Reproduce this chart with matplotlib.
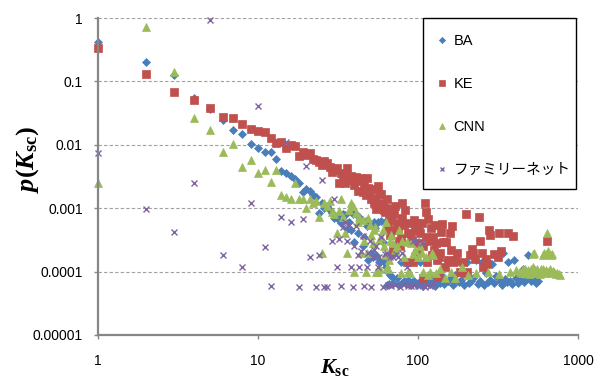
import numpy as np
import matplotlib
matplotlib.use("Agg")
import matplotlib.pyplot as plt
from matplotlib.patches import Rectangle
from matplotlib.ticker import NullLocator

plt.rcParams["mathtext.fontset"] = "custom"
plt.rcParams["mathtext.it"] = "Liberation Serif:italic:bold"
plt.rcParams["mathtext.rm"] = "Liberation Serif:bold"
SANS = ["Liberation Sans", "Noto Sans CJK JP", "DejaVu Sans"]

# (K_sc, p(K_sc))
ba_pts = [(1, .42), (2, .20), (3, .128), (4, .054), (5, .037), (6, .0245), (7, .0172), (8, .0148),
          (9, .0103), (10, .0089), (11, .0077), (12, .0077), (13, .0060), (14, .0039), (15, .0036),
          (16, .0032), (17, .0029), (18, .0025), (19, .0018), (20, .0020), (21, .0019), (22, .0016),
          (23, .0015), (24, .00083), (25, .0012), (26, .0010), (27, .0011), (28, .00095), (29, .00083),
          (30, .00070), (31, .00075), (32, .00065), (33, .00058), (34, .00080), (35, .00077),
          (36, .00047), (37, .00060), (38, .00046), (39, .00081), (40, .00029), (41, .00081),
          (42, .00040), (43, .00073), (44, .00064), (45, .00025), (46, .00035), (47, .00062),
          (48, .00053), (49, .00015), (50, .00055), (51, .00020), (52, .00017), (53, .00060),
          (54, .00049), (55, .00018), (56, .00061), (57, .00014), (58, .00014), (59, .00062),
          (60, .00029), (61, .00014), (62, .00060), (63, .00012), (64, .000062), (65, .00010),
          (66, .000064), (67, .000088), (68, .00020), (69, .000083), (70, .000065), (72, .00020),
          (74, .000080), (76, .000062), (78, .00014), (80, .000066), (82, .000072), (84, .000063),
          (86, .000075), (88, .000064), (90, .000061), (92, .000068), (94, .000070), (96, .00020),
          (98, .000062), (100, .000066), (103, .00014), (105, .000072), (108, .000060),
          (110, .000065), (113, .00014), (116, .000075), (119, .000064), (122, .000082),
          (125, .000068), (128, .000060), (131, .00015), (134, .000072), (138, .000066),
          (142, .000085), (146, .000063), (151, .00015), (155, .000070), (160, .000078),
          (165, .000062), (170, .000090), (176, .00014), (181, .000068), (187, .000074),
          (193, .000061), (199, .00009), (202, .00014), (208, .000066), (215, .000072),
          (222, .000080), (232, .00015), (238, .000064), (245, .000070), (250, .00014),
          (258, .000062), (266, .000095), (275, .000068), (283, .000074), (290, .00013),
          (300, .000066), (308, .000085), (316, .00018), (325, .000070), (333, .000062),
          (340, .00020), (350, .000076), (360, .000068), (365, .00014), (375, .000072),
          (385, .000064), (400, .00015), (410, .000078), (420, .000066), (435, .000074),
          (450, .00011), (462, .000068), (475, .000076), (490, .00018), (505, .000070),
          (520, .00011), (535, .000074), (550, .000066), (565, .000072)]

ke_pts = [(1, .34), (2, .13), (3, .068), (4, .051), (5, .038), (6, .027), (7, .026), (8, .021),
          (9, .018), (10, .0165), (11, .016), (12, .0128), (13, .0107), (14, .011), (15, .0089),
          (16, .0099), (17, .0096), (18, .0067), (19, .0077), (20, .0069), (21, .0075), (22, .0060),
          (23, .0058), (24, .0053), (25, .0048), (26, .0055), (27, .0051), (28, .0045), (29, .0037),
          (30, .0040), (31, .0043), (32, .0025), (33, .0036), (34, .0033), (35, .0025), (36, .0043),
          (37, .0028), (38, .0032), (39, .0030), (40, .0023), (41, .0031), (42, .0019), (43, .0027),
          (44, .0030), (45, .0018), (46, .0023), (47, .0016), (48, .0030), (49, .0021), (50, .0017),
          (51, .0014), (52, .0020), (53, .0012), (54, .0014), (55, .00097), (56, .0022), (57, .0017),
          (58, .0011), (59, .0017), (60, .0012), (61, .00095), (62, .00086), (63, .0010), (64, .0014),
          (65, .0005), (66, .00075), (67, .00038), (68, .00065), (69, .00096), (70, .00022),
          (71, .00080), (72, .0011), (73, .00045), (74, .00058), (75, .00046), (76, .00030),
          (77, .00025), (78, .00034), (79, .00070), (80, .0012), (82, .00055), (83, .00093),
          (85, .00014), (86, .00040), (88, .00058), (90, .00039), (92, .00030), (93, .00014),
          (95, .00065), (96, .00049), (98, .00058), (99, .00020), (100, .00028), (102, .00045),
          (103, .00040), (106, .00058), (107, .00008), (108, .00025), (110, .0012), (112, .00035),
          (113, .00087), (114, .00014), (116, .00068), (118, .00030), (120, .00048), (122, .00018),
          (124, .00035), (126, .00022), (128, .00054), (130, .00028), (131, .00015), (134, .000083),
          (136, .00017), (137, .00020), (139, .00042), (141, .00056), (143, .00029), (147, .00012),
          (150, .00029), (154, .00015), (158, .0004), (161, .00022), (163, .00053), (165, .00014),
          (170, .00015), (176, .0002), (183, .0001), (190, .00014), (196, .000094), (199, .00081),
          (202, .0001), (210, .00018), (216, .00023), (222, .0002), (228, .00016), (240, .00073),
          (243, .0003), (250, .0002), (255, .000119), (265, .00016), (270, .00013), (278, .00046),
          (282, .00038), (300, .00019), (316, .00017), (320, .0004), (330, .00021), (365, .0004),
          (392, .00037), (640, .0003)]

cnn_pts = [(1, .0025), (2, .72), (3, .14), (4, .0265), (5, .017), (6, .0077), (7, .0103), (8, .0045),
           (9, .0058), (10, .0036), (11, .0040), (12, .0026), (13, .0040), (14, .0016), (15, .0015),
           (16, .0014), (17, .0025), (18, .0014), (19, .0014), (20, .00099), (21, .0014), (22, .0012),
           (23, .0013), (24, .00073), (25, .0002), (26, .0012), (27, .0011), (28, .0013), (29, .00087),
           (30, .00080), (31, .00041), (32, .00090), (33, .0014), (34, .00073), (35, .00041),
           (36, .0002), (37, .00095), (38, .0012), (39, .0011), (40, .0001), (41, .00085),
           (42, .00060), (43, .00073), (44, .0002), (45, .00065), (46, .00030), (47, .0001),
           (48, .0002), (49, .00071), (50, .00055), (51, .00038), (52, .00028), (53, .00045),
           (54, .0005), (55, .0001), (56, .0001), (57, .00032), (58, .00011), (59, .00035),
           (60, .00046), (61, .00025), (62, .00018), (63, .00060), (64, .000118), (65, .00011),
           (66, .00015), (67, .0003), (68, .00038), (70, .00028), (72, .00022), (74, .00025),
           (76, .00045), (78, .000095), (80, .00030), (82, .00017), (85, .00029), (87, .0001),
           (89, .000094), (91, .00028), (93, .00019), (96, .00022), (100, .00017), (103, .00025),
           (106, .0002), (108, .0001), (112, .00017), (116, .000090), (119, .0001), (122, .0002),
           (124, .00018), (130, .000095), (138, .00011), (147, .00008), (160, .00010), (170, .000078),
           (188, .000118), (205, .00009), (230, .000095), (275, .0001), (320, .000092), (377, .0001),
           (410, .000105), (433, .0001), (445, .000095), (455, .00011), (465, .00011), (475, .000098),
           (485, .000105), (495, .000092), (505, .00011), (515, .000098), (520, .00019),
           (525, .000118), (530, .0002), (535, .000105), (545, .000095), (555, .00011), (565, .0001),
           (575, .000092), (585, .000108), (595, .000098), (600, .00018), (605, .00011), (615, .0002),
           (620, .000095), (630, .00019), (635, .000105), (640, .0004), (645, .00021), (650, .000098),
           (660, .00019), (665, .00011), (675, .00018), (680, .000095), (690, .00019), (695, .000102),
           (710, .000098), (725, .000092), (740, .000096), (760, .000092), (775, .00009)]

fam_pts = [(1, .0074), (2, .00097), (3, .00042), (4, .0025), (5, .93), (6, .00018), (8, .00012),
           (9, .0012), (10, .041), (11, .00024), (12, .000059), (14, .00072), (15, .011), (16, .00061),
           (18, .000057), (19, .00067), (20, .0047), (21, .00017), (23, .000058), (24, .00018),
           (25, .0028), (26, .000058), (27, .000058), (29, .0003), (30, .0014), (31, .000118),
           (32, .00033), (33, .000060), (34, .00050), (35, .0006), (36, .00030), (37, .00055),
           (38, .000118), (39, .000058), (40, .00025), (41, .00052), (42, .00018), (43, .000118),
           (44, .00021), (45, .00037), (46, .00006), (48, .000118), (49, .00020), (50, .0003),
           (51, .000058), (52, .00017), (53, .00022), (55, .00025), (56, .000118), (57, .00017),
           (59, .00035), (60, .000058), (62, .00019), (64, .0002), (65, .000062), (67, .00017),
           (68, .000060), (70, .00017), (72, .000062), (73, .00019), (75, .00017), (77, .000058),
           (80, .00020), (82, .000064), (85, .000118), (87, .000060), (90, .00006), (93, .0003),
           (95, .000062), (97, .0003), (100, .00006), (103, .000064), (106, .00028), (110, .000058),
           (114, .000062), (118, .00006), (124, .000064)]

series = [("BA", ba_pts, "D", 4.2, "#4A7EBB"),
          ("KE", ke_pts, "s", 5.3, "#C0504D"),
          ("CNN", cnn_pts, "^", 5.5, "#9BBB59"),
          ("ファミリーネット", fam_pts, "x", 4.0, "#8064A2")]

fig = plt.figure(figsize=(5.97, 3.79), dpi=100)
ax = fig.add_axes([98 / 597, 1 - 335 / 379, 480 / 597, 317 / 379])
ax.set_xscale("log"); ax.set_yscale("log")

for name, pts, mk, ms, col in series:
    k, p = np.array(pts).T
    ax.plot(k, p, ls="none", marker=mk, ms=ms, color=col, mec=col,
            mew=1.0 if mk == "x" else 0.5, label=name, clip_on=False)

ax.set_xlim(1, 1000); ax.set_ylim(1e-5, 1)
ax.set_xticks([1, 10, 100, 1000]); ax.set_xticklabels(["1", "10", "100", "1000"])
ax.set_yticks([1e-5, 1e-4, 1e-3, 1e-2, 1e-1, 1])
ax.set_yticklabels(["0.00001", "0.0001", "0.001", "0.01", "0.1", "1"])
ax.xaxis.set_minor_locator(NullLocator()); ax.yaxis.set_minor_locator(NullLocator())
for lab in ax.get_xticklabels() + ax.get_yticklabels():
    lab.set_family(SANS); lab.set_fontsize(10)
ax.tick_params(axis="x", length=3, width=1, color="#868686", pad=11)
ax.tick_params(axis="y", length=3, width=1, color="#868686", pad=8)
ax.yaxis.grid(True, ls=(0, (3, 2)), color="#A0A0A0", lw=0.8)
ax.set_axisbelow(True)
for s in ("top", "right"):
    ax.spines[s].set_visible(False)
for s in ("left", "bottom"):
    ax.spines[s].set_color("#868686"); ax.spines[s].set_linewidth(1.6)

fig.text(28 / 597, 1 - 159 / 379, r"$p(K_{\mathrm{sc}})$", rotation=90, ha="center", va="center", fontsize=19)
fig.text(335 / 597, 1 - 373 / 379, r"$K_{\mathrm{sc}}$", ha="center", va="baseline", fontsize=16)

# legend box
box = Rectangle((423 / 597, 1 - 189 / 379), 153 / 597, 171 / 379, transform=fig.transFigure,
                facecolor="white", edgecolor="black", lw=1.0, zorder=5, clip_on=False)
ax.add_patch(box)
leg = ax.legend(loc="upper left", bbox_to_anchor=(423 / 597, 1 - 18 / 379), bbox_transform=fig.transFigure,
                frameon=False, prop={"family": SANS, "size": 10.5}, borderpad=1.1, borderaxespad=0,
                labelspacing=1.98, handlelength=0.4, handletextpad=0.6, markerscale=0.75)
leg.set_zorder(6)

fig.savefig("out.png", dpi=100)
